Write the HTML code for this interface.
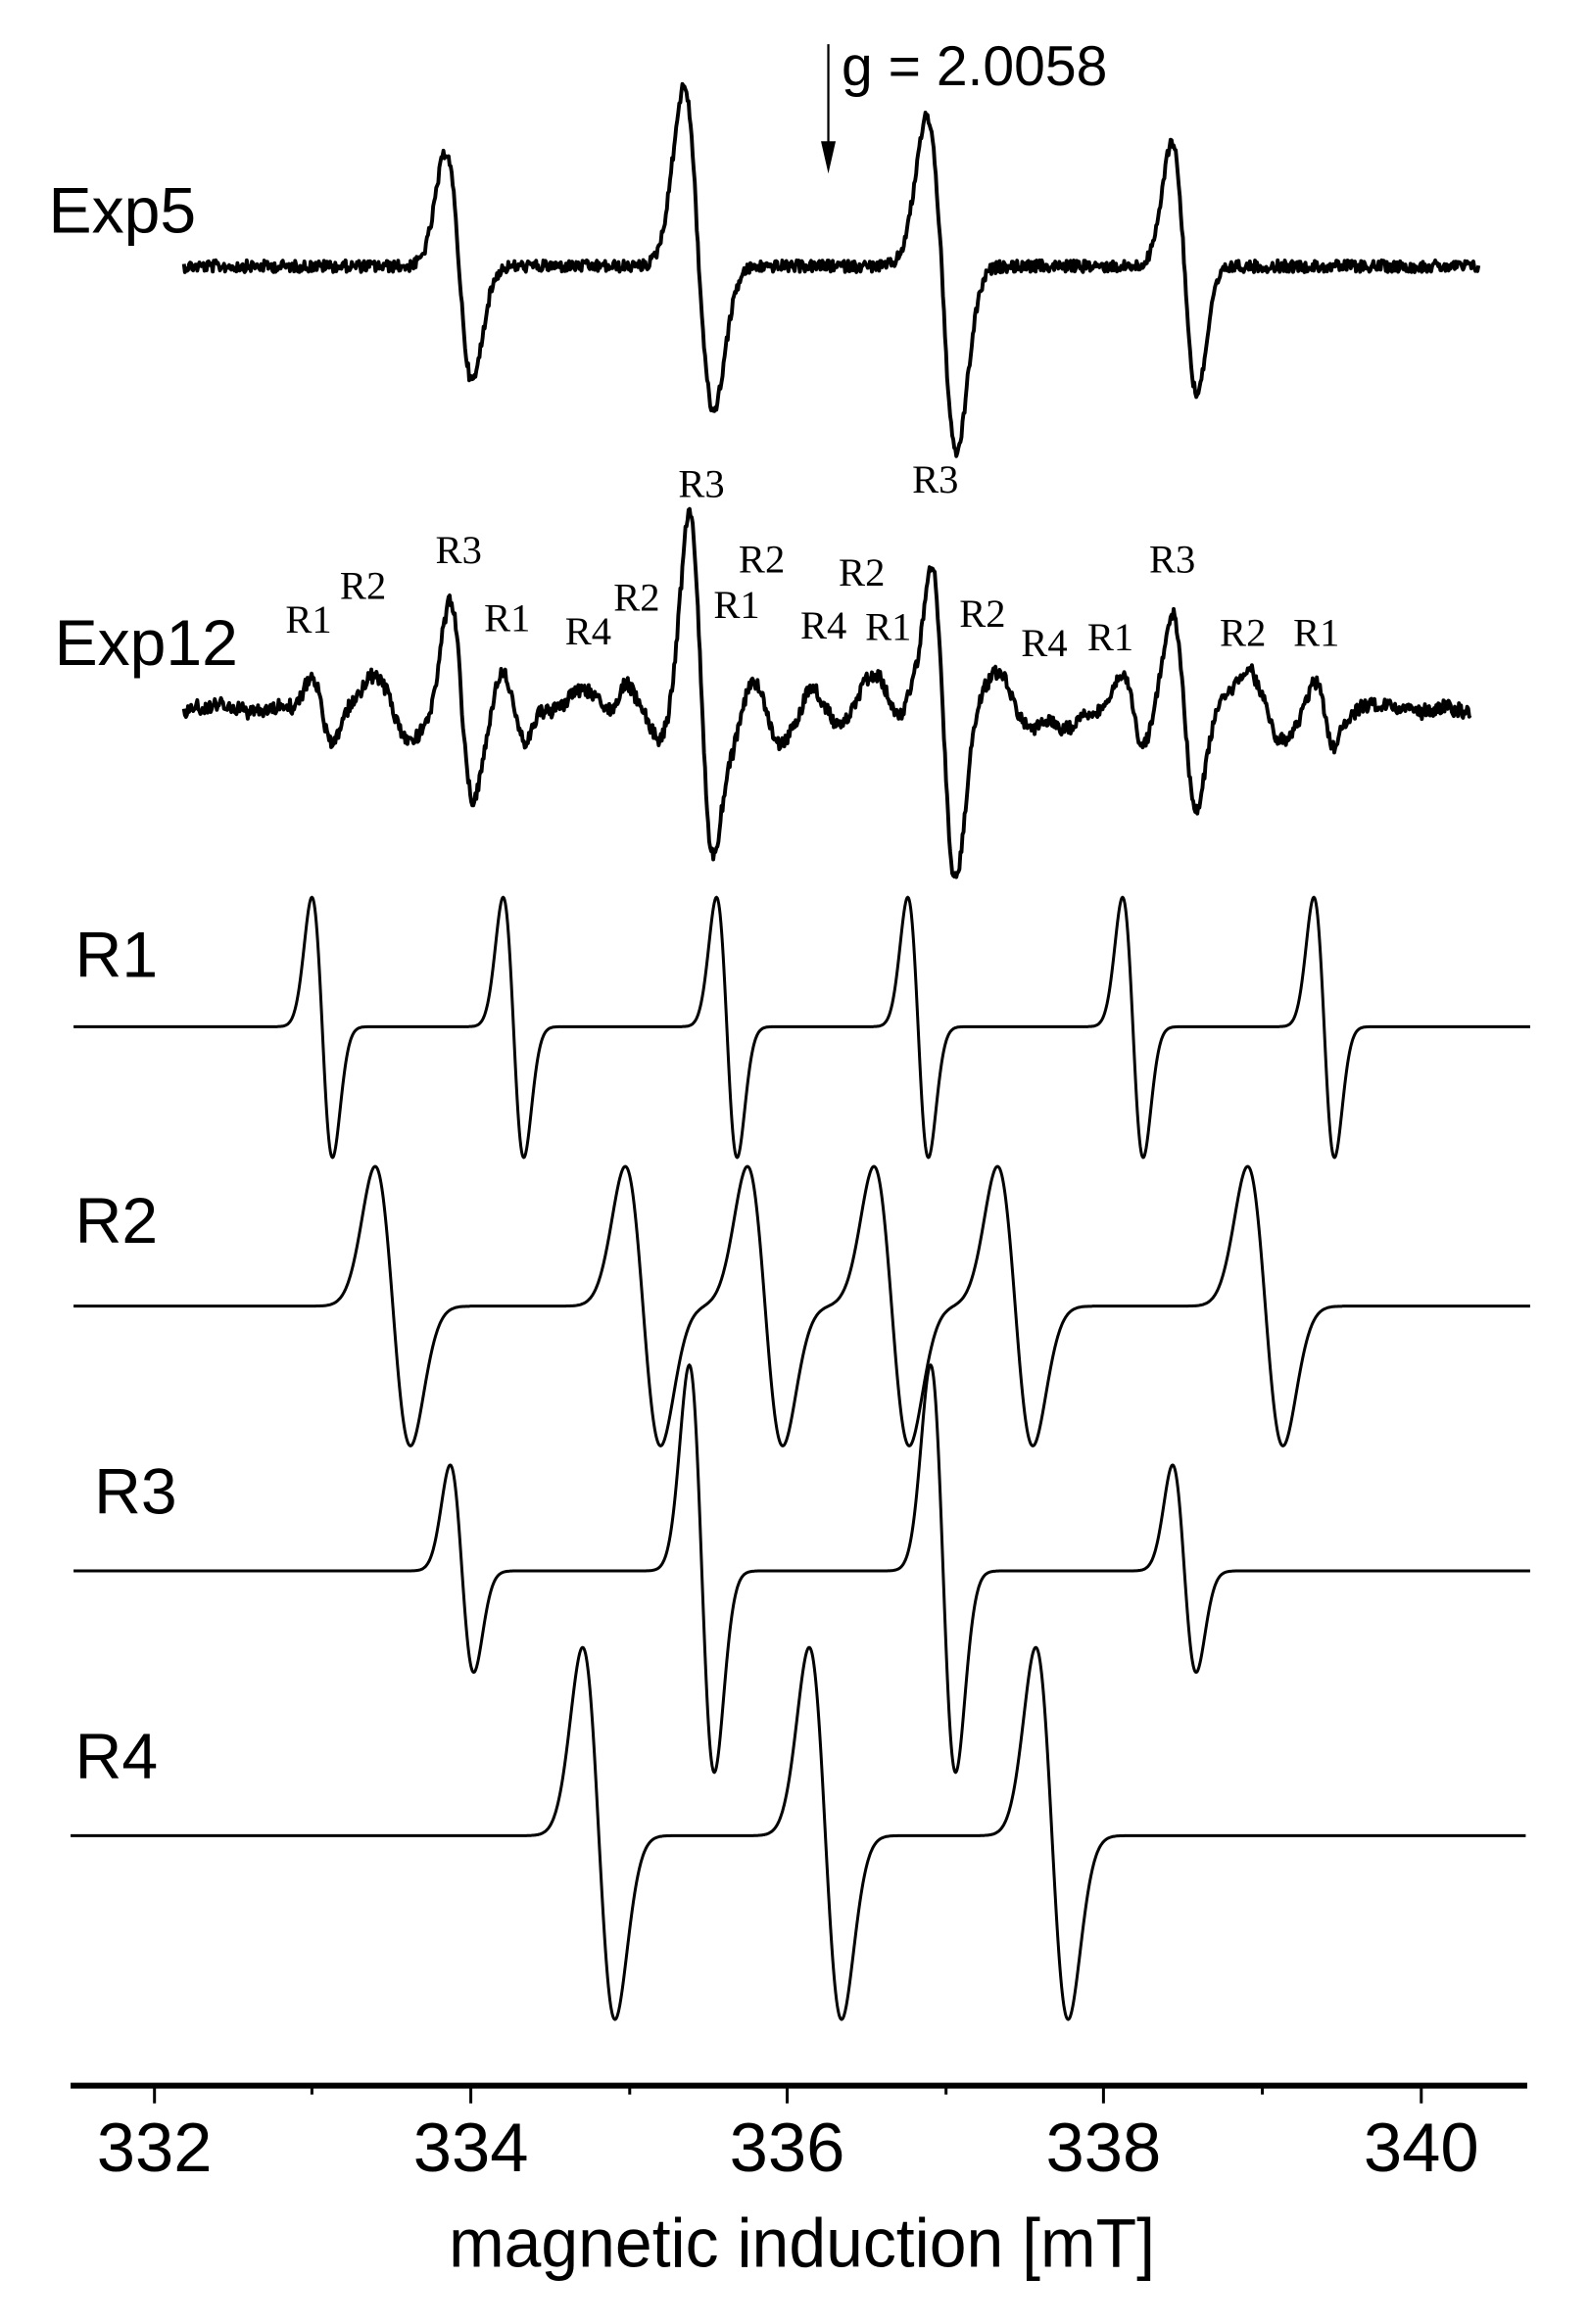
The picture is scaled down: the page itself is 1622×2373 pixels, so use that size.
<!DOCTYPE html>
<html><head><meta charset="utf-8"><style>
html,body{margin:0;padding:0;background:#fff;}
svg{display:block;}
.lab{font-family:"Liberation Sans",Arial,sans-serif;font-size:44px;fill:#000;}
.ax{font-family:"Liberation Sans",Arial,sans-serif;font-size:47px;fill:#000;}
.pk{font-family:"Liberation Serif","Times New Roman",serif;font-size:27px;fill:#000;}
</style></head><body>
<svg id="s" width="1622" height="2373" viewBox="0 0 1080 1580" xmlns="http://www.w3.org/2000/svg">
<rect width="1080" height="1580" fill="#fff"/>
<g id="traces" fill="none" stroke="#000" stroke-linejoin="round"></g>
<line x1="563" y1="30" x2="563" y2="98" stroke="#000" stroke-width="1.5"/>
<polygon points="558,96 568,96 563,118" fill="#000"/>
<text class="lab" x="572" y="58" style="font-size:38px">g = 2.0058</text>
<text class="lab" x="33" y="158">Exp5</text>
<text class="lab" x="37" y="452">Exp12</text>
<text class="lab" x="51" y="664">R1</text>
<text class="lab" x="51" y="845">R2</text>
<text class="lab" x="64" y="1029">R3</text>
<text class="lab" x="51" y="1209">R4</text>
<g>
<text class="pk" x="194" y="430">R1</text>
<text class="pk" x="231" y="407">R2</text>
<text class="pk" x="296" y="383">R3</text>
<text class="pk" x="329" y="429">R1</text>
<text class="pk" x="384" y="438">R4</text>
<text class="pk" x="417" y="415">R2</text>
<text class="pk" x="461" y="338">R3</text>
<text class="pk" x="502" y="389">R2</text>
<text class="pk" x="485" y="420">R1</text>
<text class="pk" x="544" y="434">R4</text>
<text class="pk" x="570" y="398">R2</text>
<text class="pk" x="588" y="435">R1</text>
<text class="pk" x="620" y="335">R3</text>
<text class="pk" x="652" y="426">R2</text>
<text class="pk" x="694" y="446">R4</text>
<text class="pk" x="739" y="442">R1</text>
<text class="pk" x="781" y="389">R3</text>
<text class="pk" x="829" y="439">R2</text>
<text class="pk" x="879" y="439">R1</text>
</g>
<line x1="48" y1="1418" x2="1038" y2="1418" stroke="#000" stroke-width="4"/>
<g stroke="#000" stroke-width="2">
<line x1="105" y1="1418" x2="105" y2="1430"/><line x1="320" y1="1418" x2="320" y2="1430"/>
<line x1="535" y1="1418" x2="535" y2="1430"/><line x1="750" y1="1418" x2="750" y2="1430"/>
<line x1="966" y1="1418" x2="966" y2="1430"/>
<line x1="212" y1="1418" x2="212" y2="1424"/><line x1="428" y1="1418" x2="428" y2="1424"/>
<line x1="643" y1="1418" x2="643" y2="1424"/><line x1="858" y1="1418" x2="858" y2="1424"/>
</g>
<g class="ax" text-anchor="middle">
<text x="105" y="1476">332</text>
<text x="320" y="1476">334</text>
<text x="535" y="1476">336</text>
<text x="750" y="1476">338</text>
<text x="966" y="1476">340</text>
<text x="545" y="1541" textLength="480" lengthAdjust="spacingAndGlyphs">magnetic induction [mT]</text>
</g>
</svg>
<script>
(function(){
var g=document.getElementById('traces');
function line(c,w,au,ad){return function(x){var t=(x-c)/w;var v=-t*Math.exp(0.5*(1-t*t));return v>0?v*au:v*ad;};}
var seed=12345;function rnd(){seed=(seed*1103515245+12345)%2147483648;return seed/2147483648;}
function path(x0,x1,step,base,fs,noise,sw,lf){
  var d='',y,lo=0;
  for(var x=x0;x<=x1;x+=step){var s=0;for(var i=0;i<fs.length;i++)s+=fs[i](x);
    lo=0.9*lo+(rnd()-0.5)*(lf||0);
    y=base-s+(rnd()-0.5)*noise+lo;d+=(d?'L':'M')+x.toFixed(1)+' '+y.toFixed(1);}
  var p=document.createElementNS('http://www.w3.org/2000/svg','path');
  p.setAttribute('d',d);p.setAttribute('stroke-width',sw);g.appendChild(p);}
path(125,1005,0.7,181,[line(312,9,78,78),line(475,10,122,98),line(640,10,102,127),line(805,8.5,85,86)],8,2.6);
var r1=[219,349,494,624,770,900];var f1=r1.map(function(c){return line(c,7,88,89);});
path(50,1040,0.5,698,f1,0,2);
var r2=[267,437,520,606,690,860];var f2=r2.map(function(c){return line(c,12,95,95);});
path(50,1040,0.5,888,f2,0,2);
var r3=[[314,8,72,69],[477,8.5,140,137],[641,8.5,140,137],[805,8,72,69]];
path(50,1040,0.5,1068,r3.map(function(a){return line(a[0],a[1],a[2],a[3]);}),0,2);
var r4=[407,561,715];
path(48,1037,0.5,1248,r4.map(function(c){return line(c,11,128,125);}),0,2);
var fe=[];
fe.push(line(314,8,75,65),line(477,8.5,135,120),line(641,8.5,128,115),line(805,8,65,68));
r1.forEach(function(c){fe.push(line(c,7,22,24));});
r2.forEach(function(c){fe.push(line(c,12,24,24));});
r4.forEach(function(c){fe.push(line(c,11,14,14));});
path(125,1000,0.7,482,fe,9,2.6,2.5);
})();
</script>
</body></html>
